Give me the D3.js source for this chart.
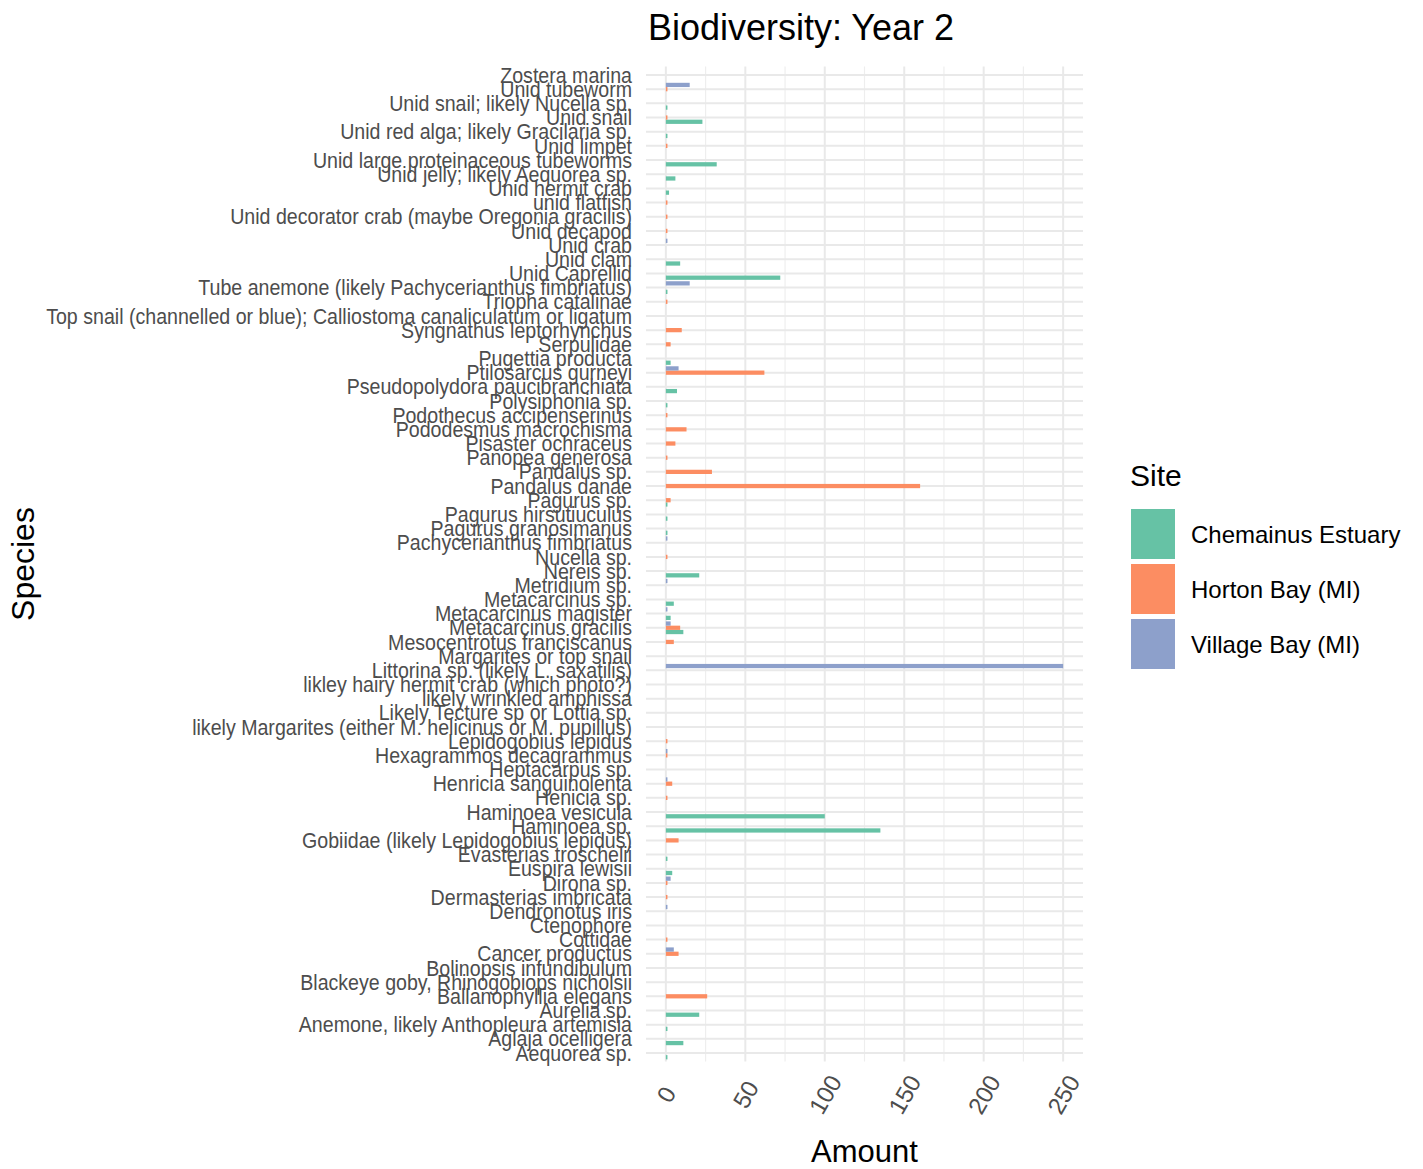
<!DOCTYPE html>
<meta charset="utf-8">
<script src="https://d3js.org/d3.v7.min.js"></script>
<style>
  body { margin: 0; background: #fff; }
  text { font-family: "Liberation Sans", Arial, sans-serif; }
</style>
<div id="chart"></div>
<script>
// species, listed top to bottom as they appear on the chart
var species = [
  "Zostera marina", "Unid tubeworm", "Unid snail; likely Nucella sp.", "Unid snail",
  "Unid red alga; likely Gracilaria sp.", "Unid limpet", "Unid large proteinaceous tubeworms",
  "Unid jelly; likely Aequorea sp.", "Unid hermit crab", "unid flatfish",
  "Unid decorator crab (maybe Oregonia gracilis)", "Unid decapod", "Unid crab", "Unid clam",
  "Unid Caprellid", "Tube anemone (likely Pachycerianthus fimbriatus)", "Triopha catalinae",
  "Top snail (channelled or blue); Calliostoma canaliculatum or ligatum",
  "Syngnathus leptorhynchus", "Serpulidae", "Pugettia producta", "Ptilosarcus gurneyi",
  "Pseudopolydora paucibranchiata", "Polysiphonia sp.", "Podothecus accipenserinus",
  "Pododesmus macrochisma", "Pisaster ochraceus", "Panopea generosa", "Pandalus sp.",
  "Pandalus danae", "Pagurus sp.", "Pagurus hirsutiuculus", "Pagurus granosimanus",
  "Pachycerianthus fimbriatus", "Nucella sp.", "Nereis sp.", "Metridium sp.",
  "Metacarcinus sp.", "Metacarcinus magister", "Metacarcinus gracilis",
  "Mesocentrotus franciscanus", "Margarites or top snail", "Littorina sp. (likely L. saxatilis)",
  "likley hairy hermit crab (which photo?)", "likely wrinkled amphissa",
  "Likely Tecture sp or Lottia sp.", "likely Margarites (either M. helicinus or M. pupillus)",
  "Lepidogobius lepidus", "Hexagrammos decagrammus", "Heptacarpus sp.",
  "Henricia sanguinolenta", "Henicia sp.", "Haminoea vesicula", "Haminoea sp.",
  "Gobiidae (likely Lepidogobius lepidus)", "Evasterias troschelii", "Euspira lewisii",
  "Dirona sp.", "Dermasterias imbricata", "Dendronotus iris", "Ctenophore", "Cottidae",
  "Cancer productus", "Bolinopsis infundibulum", "Blackeye goby, Rhinogobiops nicholsii",
  "Ballanophyllia elegans", "Aurelia sp.", "Anemone, likely Anthopleura artemisia",
  "Aglaja ocelligera", "Aequorea sp."
];

// amounts per site, same order as species
var chemainus = [
  0, 0, 1, 23, 1, 0, 32, 6, 2, 0,
  0, 0, 0, 9, 72, 1, 0, 0, 0, 0,
  3, 0, 7, 1, 0, 0, 0, 0, 0, 0,
  1, 1, 1, 0, 0, 21, 0, 5, 3, 11,
  0, 0, 0, 0, 0, 0, 0, 0, 0, 0,
  0, 0, 100, 135, 0, 1, 4, 0, 0, 0,
  0, 0, 0, 0, 0, 0, 21, 1, 11, 1
];
var horton = [
  0, 1, 0, 1, 0, 1, 0, 0, 0, 1,
  1, 1, 0, 0, 0, 0, 1, 0, 10, 3,
  0, 62, 0, 0, 1, 13, 6, 1, 29, 160,
  3, 0, 0, 0, 1, 0, 0, 0, 0, 9,
  5, 0, 0, 0, 0, 0, 0, 1, 1, 0,
  4, 1, 0, 0, 8, 0, 0, 1, 1, 0,
  0, 1, 8, 0, 0, 26, 0, 0, 0, 0
];
var village = [
  0, 15, 0, 0, 0, 0, 0, 0, 0, 0,
  0, 0, 1, 0, 0, 15, 0, 0, 0, 0,
  0, 8, 0, 0, 0, 0, 0, 0, 0, 0,
  0, 0, 0, 1, 0, 0, 1, 0, 1, 3,
  0, 0, 250, 0, 0, 0, 0, 0, 1, 0,
  1, 0, 0, 0, 0, 0, 0, 3, 0, 1,
  0, 0, 5, 0, 0, 0, 0, 0, 0, 0
];

var sites = ["Chemainus Estuary", "Horton Bay (MI)", "Village Bay (MI)"];
var xTicks = [0, 50, 100, 150, 200, 250];
var xMinor = [25, 75, 125, 175, 225];

var width = 1423,
    height = 1169;
var panel = {left: 646, right: 1083, top: 66.5, bottom: 1061.5};

var svg = d3.select("#chart")
  .append("svg")
    .attr("width", width)
    .attr("height", height);

var x = d3.scaleLinear()
    .domain([-12.5, 262.5])
    .range([panel.left, panel.right]);

var y = d3.scalePoint()
    .domain(species)
    .range([panel.top, panel.bottom])
    .padding(0.6);

var step = y.step();

// dodge within a species row: Chemainus at the bottom, Village Bay on top
var dodge = d3.scaleBand()
    .domain(sites.slice().reverse())
    .range([-0.45 * step, 0.45 * step]);

var color = d3.scaleOrdinal()
    .domain(sites)
    .range(["#66c2a5", "#fc8d62", "#8da0cb"]);

// grid
svg.append("g").selectAll("line")
  .data(xMinor)
  .enter().append("line")
    .attr("x1", function(d) { return x(d); })
    .attr("x2", function(d) { return x(d); })
    .attr("y1", panel.top)
    .attr("y2", panel.bottom)
    .attr("stroke", "#eeeeee")
    .attr("stroke-width", 1.2);

svg.append("g").selectAll("line")
  .data(xTicks)
  .enter().append("line")
    .attr("x1", function(d) { return x(d); })
    .attr("x2", function(d) { return x(d); })
    .attr("y1", panel.top)
    .attr("y2", panel.bottom)
    .attr("stroke", "#e9e9e9")
    .attr("stroke-width", 2);

svg.append("g").selectAll("line")
  .data(species)
  .enter().append("line")
    .attr("x1", panel.left)
    .attr("x2", panel.right)
    .attr("y1", function(d) { return y(d); })
    .attr("y2", function(d) { return y(d); })
    .attr("stroke", "#e9e9e9")
    .attr("stroke-width", 2);

// long format rows
var rows = [];
species.forEach(function(s, i) {
  rows.push({species: s, site: sites[0], value: chemainus[i]});
  rows.push({species: s, site: sites[1], value: horton[i]});
  rows.push({species: s, site: sites[2], value: village[i]});
});

svg.append("g").selectAll("rect")
  .data(rows.filter(function(d) { return d.value > 0; }))
  .enter().append("rect")
    .attr("x", x(0))
    .attr("y", function(d) { return y(d.species) + dodge(d.site); })
    .attr("width", function(d) { return x(d.value) - x(0); })
    .attr("height", dodge.bandwidth())
    .attr("fill", function(d) { return color(d.site); });

// y axis
var yAxis = svg.append("g")
    .attr("transform", "translate(" + panel.left + ",0)")
    .call(d3.axisLeft(y).tickSize(0).tickPadding(14));
yAxis.select(".domain").remove();
yAxis.selectAll("text")
    .attr("font-family", "Liberation Sans, Arial, sans-serif")
    .attr("font-size", "19.6px")
    .attr("fill", "#4d4d4d")
    .attr("transform", "scale(1,1.1)")
    .attr("dy", "0.33em");

// x axis
var xAxis = svg.append("g")
    .attr("transform", "translate(0," + panel.bottom + ")")
    .call(d3.axisBottom(x).tickValues(xTicks).tickSize(0));
xAxis.select(".domain").remove();
xAxis.selectAll("text")
    .attr("font-family", "Liberation Sans, Arial, sans-serif")
    .attr("font-size", "24px")
    .attr("fill", "#4d4d4d")
    .attr("y", 0)
    .attr("dy", "0.35em")
    .attr("text-anchor", "middle")
    .attr("transform", "translate(0,33) rotate(-60)");

// titles
svg.append("text")
    .attr("x", 801)
    .attr("y", 40)
    .attr("text-anchor", "middle")
    .attr("font-size", "36px")
    .attr("fill", "#000")
    .text("Biodiversity: Year 2");

svg.append("text")
    .attr("x", x(125))
    .attr("y", 1162)
    .attr("text-anchor", "middle")
    .attr("font-size", "31px")
    .attr("fill", "#000")
    .text("Amount");

svg.append("text")
    .attr("transform", "translate(34," + ((panel.top + panel.bottom) / 2) + ") rotate(-90)")
    .attr("text-anchor", "middle")
    .attr("font-size", "32px")
    .attr("fill", "#000")
    .text("Species");

// legend
var legend = svg.append("g")
    .attr("transform", "translate(1130,0)");

legend.append("text")
    .attr("x", 0)
    .attr("y", 486)
    .attr("font-size", "30px")
    .attr("fill", "#000")
    .text("Site");

var keys = legend.selectAll(".key")
  .data(sites)
  .enter().append("g")
    .attr("class", "key")
    .attr("transform", function(d, i) { return "translate(0," + (509 + i * 55) + ")"; });

keys.append("rect")
    .attr("x", 1)
    .attr("width", 44)
    .attr("height", 50)
    .attr("fill", function(d) { return color(d); });

keys.append("text")
    .attr("x", 61)
    .attr("y", 26)
    .attr("dy", "0.35em")
    .attr("font-size", "24px")
    .attr("fill", "#000")
    .text(function(d) { return d; });
</script>
